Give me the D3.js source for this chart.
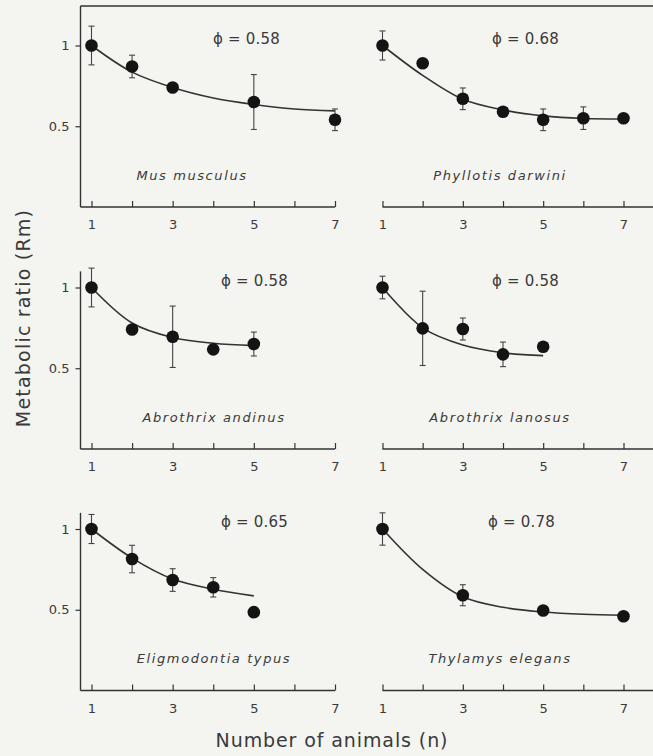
<!DOCTYPE html>
<html>
<head>
<meta charset="utf-8">
<script src="https://cdn.jsdelivr.net/npm/d3@7"></script>
<style>
  html, body { margin: 0; padding: 0; background: #f4f4f0; }
  svg { display: block; }
  text { font-family: "DejaVu Sans", "Liberation Sans", sans-serif; fill: #3a3a3a; }
</style>
</head>
<body>
<svg id="chart" width="653" height="756"></svg>
<script>
// ---------------- data ----------------
const species = ["Mus musculus", "Phyllotis darwini", "Abrothrix andinus",
                 "Abrothrix lanosus", "Eligmodontia typus", "Thylamys elegans"];
const phiValues = [0.58, 0.68, 0.58, 0.58, 0.65, 0.78];

// observed points: n, mean Rm, error half-length (0 = no bar)
const musN = [1, 2, 3, 5, 7];
const musRm = [1.0, 0.87, 0.74, 0.65, 0.54];
const musErr = [0.12, 0.07, 0, 0.17, 0.067];

const phyN = [1, 2, 3, 4, 5, 6, 7];
const phyRm = [1.0, 0.89, 0.67, 0.59, 0.54, 0.55, 0.55];
const phyErr = [0.09, 0, 0.067, 0, 0.067, 0.07, 0];

const andN = [1, 2, 3, 4, 5];
const andRm = [1.0, 0.74, 0.695, 0.617, 0.65];
const andErr = [0.12, 0, 0.19, 0, 0.074];

const lanN = [1, 2, 3, 4, 5];
const lanRm = [1.0, 0.747, 0.743, 0.586, 0.633];
const lanErr = [0.07, 0.23, 0.068, 0.076, 0];

const eliN = [1, 2, 3, 4, 5];
const eliRm = [1.0, 0.814, 0.684, 0.639, 0.485];
const eliErr = [0.09, 0.085, 0.07, 0.06, 0];

const thyN = [1, 3, 5, 7];
const thyRm = [1.0, 0.59, 0.495, 0.46];
const thyErr = [0.10, 0.065, 0, 0];

// fitted curves at integer n
const musCurveN = [1, 2, 3, 4, 5, 6, 7];
const musCurve = [1.0, 0.835, 0.74, 0.675, 0.635, 0.607, 0.595];
const phyCurveN = [1, 2, 3, 4, 5, 6, 7];
const phyCurve = [1.0, 0.815, 0.667, 0.601, 0.564, 0.548, 0.545];
const andCurveN = [1, 2, 3, 4, 5];
const andCurve = [1.0, 0.78, 0.69, 0.655, 0.64];
const lanCurveN = [1, 2, 3, 4, 5];
const lanCurve = [1.0, 0.75, 0.644, 0.596, 0.578];
const eliCurveN = [1, 2, 3, 4, 5];
const eliCurve = [1.0, 0.82, 0.69, 0.627, 0.586];
const thyCurveN = [1, 2, 3, 4, 5, 6, 7];
const thyCurve = [1.0, 0.75, 0.58, 0.515, 0.486, 0.472, 0.466];

const xTicks = [1, 2, 3, 4, 5, 6, 7];
const xTickLabels = ["1", "", "3", "", "5", "", "7"];
const yTicks = [0.5, 1];
const yTickLabels = ["0.5", "1"];

const xTitle = "Number of animals (n)";
const yTitle = "Metabolic ratio (Rm)";

// ---------------- assemble ----------------
function zipPts(ns, vs, es) { return ns.map((n, i) => ({ n: n, v: vs[i], e: es[i] })); }
function zipCurve(ns, vs) { return ns.map((n, i) => ({ n: n, v: vs[i] })); }

const panels = [
  { name: species[0], phi: phiValues[0], pts: zipPts(musN, musRm, musErr), curve: zipCurve(musCurveN, musCurve), col: 0, row: 0 },
  { name: species[1], phi: phiValues[1], pts: zipPts(phyN, phyRm, phyErr), curve: zipCurve(phyCurveN, phyCurve), col: 1, row: 0 },
  { name: species[2], phi: phiValues[2], pts: zipPts(andN, andRm, andErr), curve: zipCurve(andCurveN, andCurve), col: 0, row: 1 },
  { name: species[3], phi: phiValues[3], pts: zipPts(lanN, lanRm, lanErr), curve: zipCurve(lanCurveN, lanCurve), col: 1, row: 1 },
  { name: species[4], phi: phiValues[4], pts: zipPts(eliN, eliRm, eliErr), curve: zipCurve(eliCurveN, eliCurve), col: 0, row: 2 },
  { name: species[5], phi: phiValues[5], pts: zipPts(thyN, thyRm, thyErr), curve: zipCurve(thyCurveN, thyCurve), col: 1, row: 2 }
];

// ---------------- layout ----------------
const svg = d3.select("#chart");
const ink = "#333";
const rowBase = [207, 449, 690.5];           // x-axis pixel row positions
const unitPx = 161.5;                        // pixels per Rm unit
const colRange = [[91.5, 335], [382.5, 623.5]];
const yAxisX = 80.5;
const yAxisTop = [1.245, 1.1, 1.1];

// top frame line
svg.append("line")
  .attr("x1", yAxisX).attr("x2", 653)
  .attr("y1", rowBase[0] - yAxisTop[0] * unitPx).attr("y2", rowBase[0] - yAxisTop[0] * unitPx)
  .attr("stroke", ink).attr("stroke-width", 1.4);

panels.forEach(p => {
  const x = d3.scaleLinear().domain([1, 7]).range(colRange[p.col]);
  const y = d3.scaleLinear().domain([0, 1]).range([rowBase[p.row], rowBase[p.row] - unitPx]);
  const g = svg.append("g");

  // x axis
  const xAx = d3.axisBottom(x).tickValues(xTicks)
    .tickFormat((d, i) => xTickLabels[i]).tickSizeInner(-6).tickSizeOuter(0).tickPadding(13);
  const xg = g.append("g").attr("transform", `translate(0,${rowBase[p.row]})`).call(xAx);
  xg.select(".domain").remove();
  xg.selectAll(".tick line").attr("stroke", ink).attr("stroke-width", 1.2);
  xg.selectAll(".tick text").style("font-size", "13px").attr("fill", "#3a3a3a")
    .style("font-family", "DejaVu Sans, sans-serif");
  const xStart = p.col === 0 ? yAxisX : x(1);
  const xEnd = p.col === 0 ? x(7) : 653;
  g.append("line").attr("x1", xStart).attr("x2", xEnd)
    .attr("y1", rowBase[p.row]).attr("y2", rowBase[p.row])
    .attr("stroke", ink).attr("stroke-width", 1.4);

  // y axis for left column
  if (p.col === 0) {
    const yAx = d3.axisLeft(y).tickValues(yTicks)
      .tickFormat((d, i) => yTickLabels[i]).tickSizeInner(5).tickSizeOuter(0).tickPadding(6);
    const yg = g.append("g").attr("transform", `translate(${yAxisX},0)`).call(yAx);
    yg.select(".domain").remove();
    yg.selectAll(".tick line").attr("stroke", ink).attr("stroke-width", 1.2);
    yg.selectAll(".tick text").style("font-size", "13px").attr("fill", "#3a3a3a")
      .style("font-family", "DejaVu Sans, sans-serif");
    g.append("line").attr("x1", yAxisX).attr("x2", yAxisX)
      .attr("y1", rowBase[p.row]).attr("y2", y(yAxisTop[p.row]))
      .attr("stroke", ink).attr("stroke-width", 1.4);
  }

  // fitted curve
  g.append("path").datum(p.curve)
    .attr("d", d3.line().x(d => x(d.n)).y(d => y(d.v)).curve(d3.curveCatmullRom.alpha(0.5)))
    .attr("fill", "none").attr("stroke", ink).attr("stroke-width", 1.6);

  // error bars
  const eb = g.selectAll(".eb").data(p.pts.filter(d => d.e > 0)).enter().append("g");
  eb.append("line").attr("x1", d => x(d.n)).attr("x2", d => x(d.n))
    .attr("y1", d => y(d.v + d.e)).attr("y2", d => y(d.v - d.e))
    .attr("stroke", "#444").attr("stroke-width", 1.1);
  [1, -1].forEach(s => {
    eb.append("line").attr("x1", d => x(d.n) - 3).attr("x2", d => x(d.n) + 3)
      .attr("y1", d => y(d.v + s * d.e)).attr("y2", d => y(d.v + s * d.e))
      .attr("stroke", "#444").attr("stroke-width", 1.1);
  });

  // points
  g.selectAll(".pt").data(p.pts).enter().append("circle")
    .attr("cx", d => x(d.n)).attr("cy", d => y(d.v)).attr("r", 6.3)
    .attr("fill", "#141414");

  // phi label
  const phiX = p.col === 0 ? (p.row === 0 ? 213 : 221) : (p.row === 2 ? 488 : 492);
  g.append("text").attr("x", phiX).attr("y", y(1.04))
    .attr("dominant-baseline", "middle")
    .style("font-size", "15px")
    .text("ϕ = " + p.phi.toFixed(2))
    .style("letter-spacing", "0.2px");

  // species label
  const spX = p.col === 0 ? (p.row === 0 ? 192 : 214) : 500;
  g.append("text").attr("x", spX).attr("y", y(0.19))
    .attr("text-anchor", "middle").attr("dominant-baseline", "middle")
    .style("font-size", "13px").style("font-style", "italic")
    .style("letter-spacing", "1.6px")
    .text(p.name);
});

// axis titles
svg.append("text").attr("x", 332).attr("y", 741)
  .attr("text-anchor", "middle").attr("dominant-baseline", "middle")
  .style("font-size", "19px").style("letter-spacing", "0.9px").text(xTitle);
svg.append("text").attr("transform", "translate(24,318) rotate(-90)")
  .attr("text-anchor", "middle").attr("dominant-baseline", "middle")
  .style("font-size", "19px").style("letter-spacing", "1.2px").text(yTitle);
</script>
</body>
</html>
